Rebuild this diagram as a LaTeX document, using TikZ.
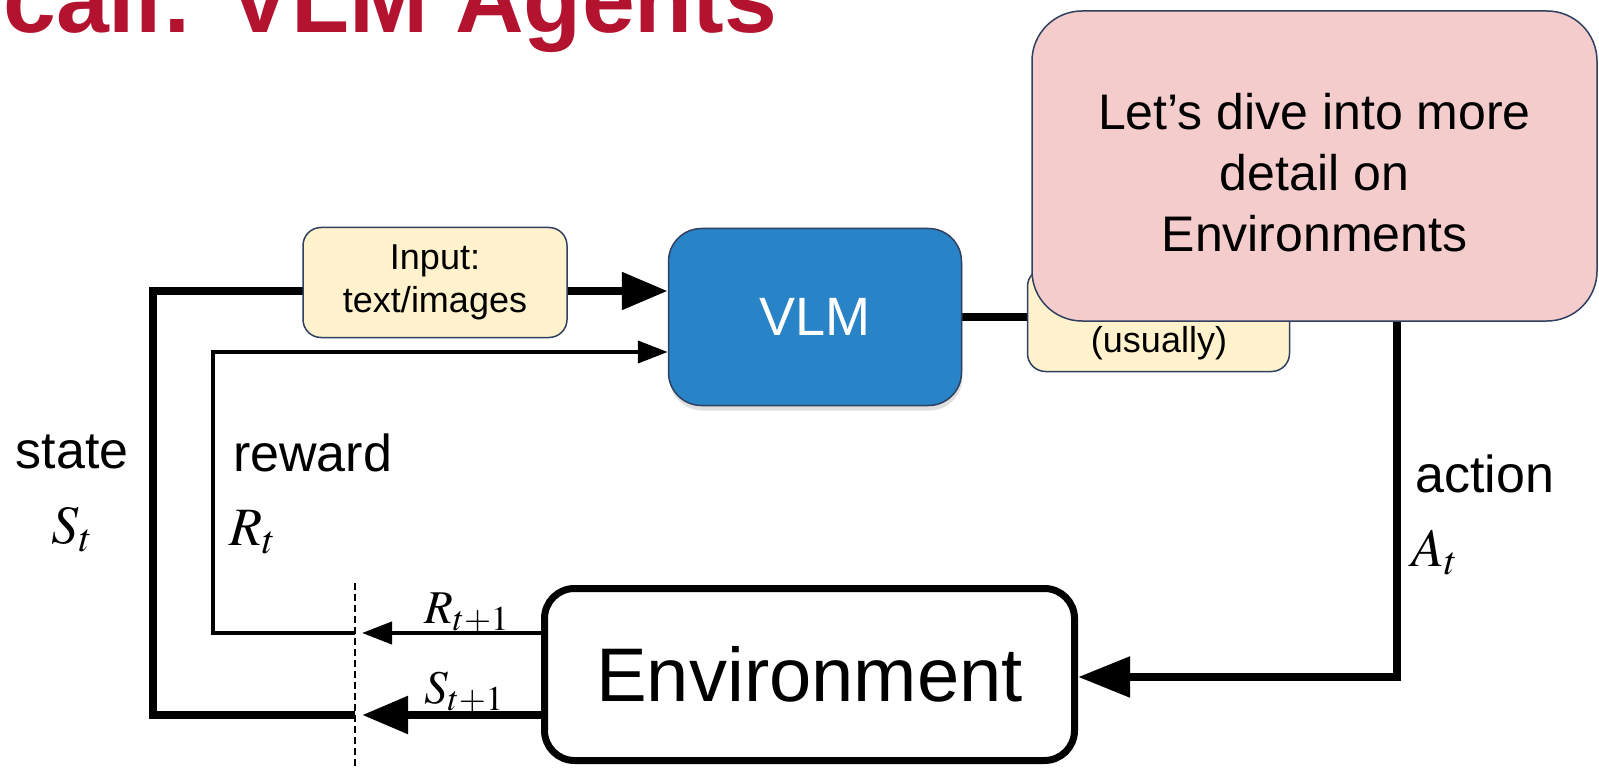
\documentclass[tikz,border=0pt]{standalone}
\usepackage{mathptmx}
\usepackage[no-math]{fontspec}
\setmainfont{Liberation Sans}
\usetikzlibrary{arrows.meta,shadows}
\definecolor{titlered}{RGB}{179,19,47}
\definecolor{yellowc}{HTML}{FFF2CC}
\definecolor{pinkc}{HTML}{F4CCCC}
\definecolor{bluec}{RGB}{40,131,199}
\definecolor{bordc}{HTML}{2F4060}
\newcommand{\fsz}[2]{\fontsize{#1}{#2}\selectfont}
\pgfdeclarelayer{bg}
\pgfsetlayers{bg,main}
\begin{document}
\begin{tikzpicture}[x=1pt,y=-1pt,
  ybox/.style={draw=bordc, line width=1.5pt, rounded corners=18pt, fill=yellowc, align=center, inner sep=0pt, font=\fsz{36}{43}},
  vlmbox/.style={draw=bordc, line width=1.5pt, rounded corners=33pt, fill=bluec, text=white, inner sep=0pt, font=\fsz{54}{60},
    minimum width=293pt, minimum height=177pt, drop shadow={shadow xshift=1pt, shadow yshift=-5pt, opacity=0.25}},
  envbox/.style={draw=black, line width=7pt, rounded corners=30pt, fill=white, inner sep=0pt, font=\fsz{76}{80},
    minimum width=530pt, minimum height=172pt},
  pinkbox/.style={draw=bordc, line width=1.5pt, rounded corners=50pt, fill=pinkc, align=center, inner sep=0pt, font=\fsz{50}{61},
    minimum width=565pt, minimum height=310pt},
  lbl/.style={anchor=base, inner sep=0pt, font=\fsz{52}{60}},
  lblw/.style={anchor=base west, inner sep=0pt, font=\fsz{52}{60}},
  mlbl/.style={anchor=base west, inner sep=0pt, font=\fsz{54}{60}},
  slbl/.style={anchor=base west, inner sep=0pt, font=\fsz{47}{52}},
  bigline/.style={line width=8.5pt},
  smallline/.style={line width=4pt},
  bighead/.style={-{Triangle[length=46pt,width=36pt]}},
  acthead/.style={-{Triangle[length=52pt,width=39pt]}},
  smallhead/.style={-{Triangle[length=30pt,width=22pt]}},
  dashline/.style={line width=1.8pt, dash pattern=on 7pt off 4pt}
]
\useasboundingbox (0,0) rectangle (1599,770);

% title
\node[anchor=base west, inner sep=0pt, text=titlered, font=\bfseries\fsz{95}{110}] (title) at (3,33) {call: VLM Agents};

% nodes
\node[vlmbox] (vlm) at (815,317) {VLM};
\node[ybox, minimum width=264pt, minimum height=110pt] (input) at (435,282.5) {Input:\\text/images};
\node[ybox, minimum width=262pt, minimum height=103pt] (out) at (1158.5,320) {};
\node[anchor=base, inner sep=0pt, font=\fsz{36}{43}] (outtxt) at (1159,352) {(usually)};
\node[envbox] (env) at (809.5,674.5) {Environment};

% coordinates
\coordinate (sL) at (153,291);
\coordinate (sB) at (153,715);
\coordinate (dS) at (355,715);
\coordinate (tipS) at (362,715);
\coordinate (rL) at (213,352);
\coordinate (rB) at (213,633);
\coordinate (dR) at (355,633);
\coordinate (tipR) at (362,633);
\coordinate (aC) at (1397,318);
\coordinate (aB) at (1397,677);
\coordinate (dTop) at (355,583);
\coordinate (dBot) at (355,775);

\begin{pgfonlayer}{bg}
\draw[bigline, bighead] (env.west |- tipS) -- (tipS);
\draw[bigline, bighead] (dS) -- (sB) -- (sL) -- (vlm.west |- sL);
\draw[smallline, smallhead] (env.west |- tipR) -- (tipR);
\draw[smallline, smallhead] (dR) -- (rB) -- (rL) -- (vlm.west |- rL);
\draw[bigline] (vlm.east) -- (out.west |- vlm.east);
\draw[bigline, acthead] (out.east |- aC) -- (aC) -- (aB) -- (env.east |- aB);
\draw[dashline] (dTop) -- (dBot);
\end{pgfonlayer}

% labels
\node[lbl] (state) at (72,468) {state};
\node[lbl] (St) at (72,543) {\fsz{54}{60}$S_t$};
\node[lblw] (reward) at (233,471) {reward};
\node[mlbl] (Rt) at (229,545) {$R_t$};
\node[lblw] (action) at (1415,492) {action};
\node[mlbl] (At) at (1411,566) {$A_t$};
\node[slbl] (Rt1) at (424,623) {$R_{t+1}$};
\node[slbl] (St1) at (424,703) {$S_{t+1}$};

% note on top
\node[pinkbox] (note) at (1314.5,166) {\rule{0pt}{50pt}Let’s dive into more\\detail on\\Environments};
\end{tikzpicture}
\end{document}
